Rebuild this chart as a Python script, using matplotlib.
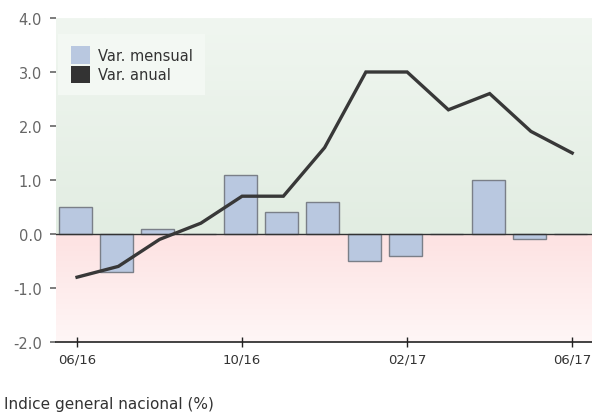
import matplotlib
matplotlib.use("Agg")
import matplotlib.pyplot as plt
import numpy as np
from matplotlib.colors import LinearSegmentedColormap
from matplotlib.patches import Patch

months = ["06/16", "07/16", "08/16", "09/16", "10/16", "11/16", "12/16",
          "01/17", "02/17", "03/17", "04/17", "05/17", "06/17"]
var_mensual = [0.5, -0.7, 0.1, 0.0, 1.1, 0.4, 0.6, -0.5, -0.4, 0.0, 1.0, -0.1, 0.0]
var_anual = [-0.8, -0.6, -0.1, 0.2, 0.7, 0.7, 1.6, 3.0, 3.0, 2.3, 2.6, 1.9, 1.5]
tick_labels = ["06/16", "10/16", "02/17", "06/17"]
yticks = [-2.0, -1.0, 0.0, 1.0, 2.0, 3.0, 4.0]

fig = plt.figure(figsize=(5.92, 4.14), dpi=100)
ax = fig.add_axes([56/592, 1-343/414, 1-56/592, (343-19)/414])
x = np.arange(len(months))
xlim = (-0.51, 12.48)
ax.set_xlim(*xlim)
ax.set_ylim(-2.0, 4.0)

# gradient backgrounds
gcm = LinearSegmentedColormap.from_list("g", ["#e2ede2", "#f0f6f0"])
pcm = LinearSegmentedColormap.from_list("p", ["#fff6f6", "#fde2e2"])
grad = np.linspace(0, 1, 100).reshape(-1, 1)
ax.imshow(grad, cmap=gcm, extent=[xlim[0], xlim[1], 0, 4], origin="lower",
          aspect="auto", zorder=0)
ax.imshow(grad, cmap=pcm, extent=[xlim[0], xlim[1], -2, 0], origin="lower",
          aspect="auto", zorder=0)

ax.bar(x - 0.04, var_mensual, width=0.8, color="#b9c8e0", edgecolor="#7a7f88",
       linewidth=1.0, zorder=2)
ax.axhline(0, color="#333333", linewidth=1.0, zorder=3)
ax.plot(x, var_anual, color="#383838", linewidth=2.4, zorder=4,
        solid_joinstyle="miter")

for s in ["top", "right", "left"]:
    ax.spines[s].set_visible(False)
ax.spines["bottom"].set_color("#222222")
ax.spines["bottom"].set_linewidth(1.2)

ax.set_xticks([months.index(t) for t in tick_labels])
ax.set_xticklabels(tick_labels, fontsize=9.5, color="#333333")
ax.tick_params(axis="x", direction="inout", length=7, width=1, color="#222222", pad=4)
ax.set_yticks(yticks)
ax.set_yticklabels([f"{v:.1f}" for v in yticks], fontsize=10.5, color="#666666")
ax.tick_params(axis="y", direction="out", length=4, width=1.2, color="#666666", pad=6)

leg = ax.legend(handles=[Patch(facecolor="#b9c8e0", edgecolor="none", label="Var. mensual"),
                         Patch(facecolor="#333333", edgecolor="none", label="Var. anual")],
                loc="upper left", bbox_to_anchor=(0.004, 0.951), fontsize=10.5,
                frameon=True, fancybox=False, framealpha=1, facecolor="#f3f8f3",
                edgecolor="none", handlelength=1.35, handleheight=1.45,
                handletextpad=0.5, labelspacing=0.15, borderpad=0.85,
                borderaxespad=0.0)
for t in leg.get_texts():
    t.set_color("#333333")

fig.text(4/592, 1-405/414, "Indice general nacional (%)", fontsize=11,
         color="#333333", va="center", ha="left")

fig.savefig("out.png", dpi=100)
